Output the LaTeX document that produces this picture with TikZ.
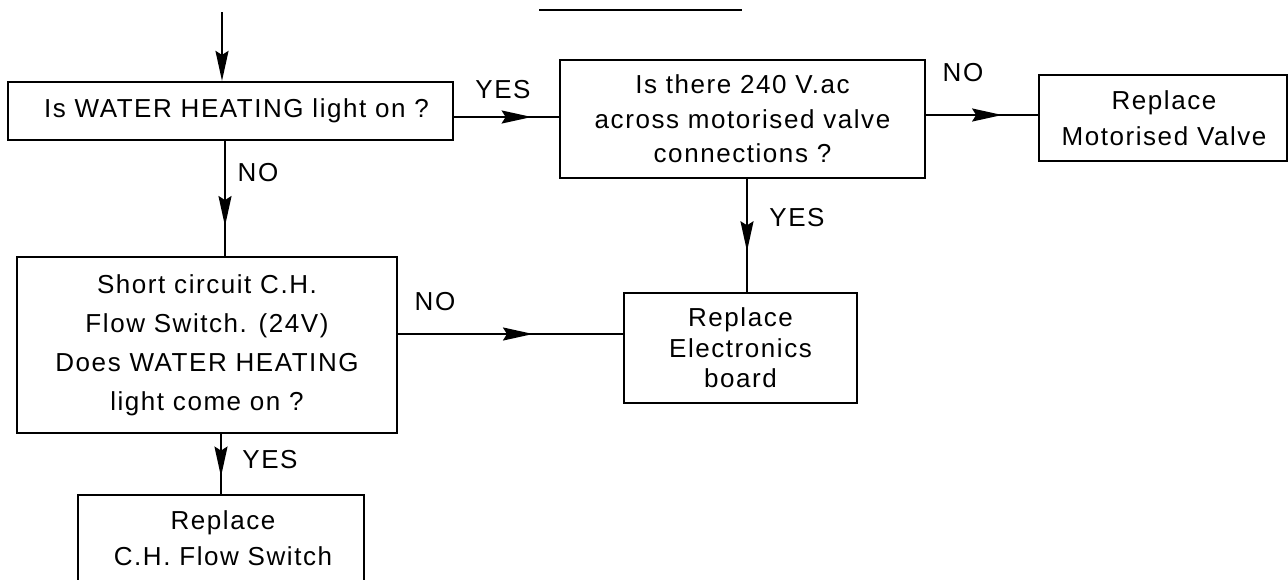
\documentclass[tikz,border=0pt]{standalone}
\usepackage{fontspec}
\setmainfont{Liberation Sans}[LetterSpace=6]
\usetikzlibrary{arrows.meta,decorations.markings}
\tikzset{
  box/.style={draw, line width=2.2pt, rectangle, inner sep=0pt},
  txt/.style={inner sep=0pt, align=center},
  conn/.style={line width=2pt},
  tip/.tip={Stealth[length=30pt,width=13pt,inset=4pt]},
  midarrow/.style={postaction={decorate}, decoration={markings, mark=at position #1 with {\arrow{tip}}}},
  lbl/.style={inner sep=0pt, font=\fontsize{26}{30}\selectfont},
}
\begin{document}
\begin{tikzpicture}[x=1pt,y=-1pt]
\useasboundingbox (0,0) rectangle (1288,579);
\clip (0,0) rectangle (1288,579);
\fill[white] (0,0) rectangle (1288,579);

% boxes
\node[box, minimum width=445pt, minimum height=58pt] (b1) at (230.5,111) {};
\node[box, minimum width=365pt, minimum height=118pt] (b2) at (742.5,119) {};
\node[box, minimum width=248pt, minimum height=86pt] (b3) at (1163,118) {};
\node[box, minimum width=380pt, minimum height=176pt] (b4) at (207,345) {};
\node[box, minimum width=233pt, minimum height=110pt] (b5) at (740.5,348) {};
\node[box, minimum width=286pt, minimum height=86pt] (b6) at (221,538) {};

% box texts
\node[txt, font=\fontsize{26}{30}\selectfont] (t1) at ([xshift=6pt]b1.center) {Is WATER HEATING light on ?};
\node[txt, font=\fontsize{26}{34.5}\selectfont] (t2) at (b2.center) {Is there 240 V.ac\\across motorised valve\\connections ?};
\node[txt, font=\fontsize{26}{36}\selectfont] (t3) at ([xshift=1pt]b3.center) {Replace\\Motorised Valve};
\node[txt, font=\fontsize{26}{39}\selectfont] (t4) at (b4.center) {Short circuit C.H.\\Flow Switch. (24V)\\Does WATER HEATING\\light come on ?};
\node[txt, font=\fontsize{26}{30.5}\selectfont] (t5) at (b5.center) {Replace\\Electronics\\board};
\node[txt, font=\fontsize{26}{36}\selectfont] (t6) at ([xshift=2pt]b6.center) {Replace\\C.H. Flow Switch};

% top underline
\coordinate (ulA) at (539,10);
\coordinate (ulB) at (742,10);
\draw[line width=2.4pt] (ulA) -- (ulB);

% entry arrow
\coordinate (entry) at (222,12);
\draw[conn, -{tip}] (entry) -- (entry |- b1.north);

% b1 -> b2 YES
\draw[conn, midarrow=0.74] ([yshift=-6pt]b1.east) -- ([yshift=-6pt]b1.east -| b2.west);
\node[lbl] (l1) at (503,90) {YES};

% b2 -> b3 NO
\draw[conn, midarrow=0.68] ([yshift=3pt]b3.west -| b2.east) -- ([yshift=3pt]b3.west);
\node[lbl] (l2) at (963,73) {NO};

% b1 -> b4 NO
\draw[conn, midarrow=0.74] ([xshift=-5.5pt]b1.south) -- ([xshift=-5.5pt]b1.south |- b4.north);
\node[lbl] (l3) at (258,173) {NO};

% b2 -> b5 YES
\draw[conn, midarrow=0.64] ([xshift=4.5pt]b2.south) -- ([xshift=4.5pt]b2.south |- b5.north);
\node[lbl] (l4) at (797,218) {YES};

% b4 -> b5 NO
\draw[conn, midarrow=0.6] ([yshift=11pt]b4.east) -- ([yshift=11pt]b4.east -| b5.west);
\node[lbl] (l5) at (435,302) {NO};

% b4 -> b6 YES
\draw[conn, midarrow=0.71] ([xshift=14pt]b4.south) -- ([xshift=14pt]b4.south |- b6.north);
\node[lbl] (l6) at (270,460) {YES};
\end{tikzpicture}
\end{document}
